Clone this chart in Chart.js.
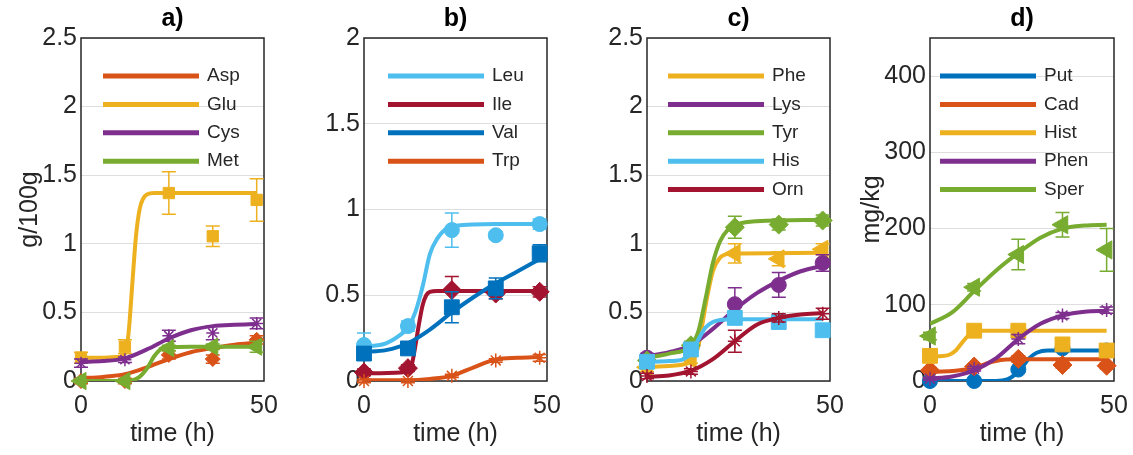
<!DOCTYPE html>
<html>
<head>
<meta charset="utf-8">
<script src="https://cdn.jsdelivr.net/npm/chart.js@4.4.1/dist/chart.umd.min.js"></script>
<style>
  body { margin: 0; background: #fff; }
  #wrap { position: relative; width: 1133px; height: 455px; }
  canvas { position: absolute; top: 0; }
</style>
</head>
<body>
<div id="wrap">
  <canvas id="chartA" width="283" height="455" style="left:0px"></canvas>
  <canvas id="chartB" width="283" height="455" style="left:283px"></canvas>
  <canvas id="chartC" width="283" height="455" style="left:566px"></canvas>
  <canvas id="chartD" width="284" height="455" style="left:849px"></canvas>
</div>
<script>
// sampling times (h) and axis ticks
const timePoints = [0, 12, 24, 36, 48]
const xTicks = [0, 50]
const yTicksA = [0, 0.5, 1, 1.5, 2, 2.5]
const yTicksB = [0, 0.5, 1, 1.5, 2]
const yTicksC = [0, 0.5, 1, 1.5, 2, 2.5]
const yTicksD = [0, 100, 200, 300, 400]

// a) g/100g
const aspMean = [0.0, 0.0, 0.19, 0.16, 0.30]
const aspErr = [0.02, 0.02, 0.03, 0.03, 0.03]
const aspFitT = [0, 6, 12, 18, 24, 30, 36, 42, 48]
const aspFitV = [0.02, 0.03, 0.05, 0.1, 0.16, 0.21, 0.24, 0.265, 0.28]
const gluMean = [0.17, 0.25, 1.37, 1.055, 1.32]
const gluErr = [0.04, 0.05, 0.155, 0.075, 0.155]
const gluFitT = [0, 6, 10, 12, 13, 14, 15, 16, 17, 18, 20, 30, 48]
const gluFitV = [0.17, 0.17, 0.175, 0.2, 0.35, 0.7, 1.05, 1.25, 1.33, 1.36, 1.37, 1.37, 1.37]
const cysMean = [0.13, 0.155, 0.33, 0.35, 0.42]
const cysErr = [0.03, 0.02, 0.04, 0.05, 0.04]
const cysFitT = [0, 6, 12, 18, 24, 30, 36, 42, 48]
const cysFitV = [0.14, 0.145, 0.165, 0.23, 0.31, 0.37, 0.40, 0.41, 0.415]
const metMean = [0.0, 0.0, 0.24, 0.25, 0.25]
const metErr = [0.01, 0.01, 0.02, 0.02, 0.04]
const metFitT = [0, 12, 14, 16, 18, 20, 22, 24, 30, 48]
const metFitV = [0, 0, 0.005, 0.03, 0.09, 0.18, 0.235, 0.245, 0.25, 0.25]

// b) g/100g
const leuMean = [0.21, 0.32, 0.88, 0.85, 0.915]
const leuErr = [0.07, 0.03, 0.1, 0.02, 0.03]
const leuFitT = [0, 6, 10, 12, 14, 16, 18, 20, 22, 25, 36, 48]
const leuFitV = [0.2, 0.22, 0.27, 0.31, 0.4, 0.55, 0.74, 0.83, 0.88, 0.905, 0.915, 0.915]
const ileMean = [0.05, 0.075, 0.53, 0.51, 0.52]
const ileErr = [0.02, 0.02, 0.08, 0.03, 0.03]
const ileFitT = [0, 10, 12, 13, 14, 15, 16, 17, 18, 20, 48]
const ileFitV = [0.045, 0.05, 0.06, 0.09, 0.2, 0.33, 0.44, 0.5, 0.52, 0.525, 0.525]
const valMean = [0.16, 0.19, 0.43, 0.54, 0.745]
const valErr = [0.03, 0.02, 0.09, 0.06, 0.05]
const valFitT = [0, 6, 12, 18, 24, 30, 36, 42, 48]
const valFitV = [0.17, 0.18, 0.22, 0.3, 0.4, 0.49, 0.57, 0.64, 0.71]
const trpMean = [0.0, 0.0, 0.03, 0.12, 0.135]
const trpErr = [0.01, 0.01, 0.01, 0.01, 0.02]
const trpFitT = [0, 12, 18, 24, 30, 36, 42, 48]
const trpFitV = [0.005, 0.005, 0.012, 0.03, 0.08, 0.125, 0.135, 0.14]

// c) g/100g
const pheMean = [0.1, 0.16, 0.93, 0.89, 0.96]
const pheErr = [0.03, 0.03, 0.07, 0.05, 0.04]
const pheFitT = [0, 6, 12, 14, 16, 18, 20, 22, 26, 48]
const pheFitV = [0.1, 0.11, 0.14, 0.25, 0.55, 0.8, 0.9, 0.925, 0.93, 0.935]
const lysMean = [0.17, 0.25, 0.56, 0.7, 0.86]
const lysErr = [0.03, 0.03, 0.12, 0.09, 0.06]
const lysFitT = [0, 6, 12, 18, 24, 30, 36, 42, 48]
const lysFitV = [0.18, 0.21, 0.26, 0.38, 0.52, 0.64, 0.73, 0.8, 0.84]
const tyrMean = [0.15, 0.26, 1.12, 1.14, 1.17]
const tyrErr = [0.03, 0.03, 0.08, 0.04, 0.04]
const tyrFitT = [0, 6, 12, 14, 16, 18, 20, 22, 25, 30, 48]
const tyrFitV = [0.17, 0.2, 0.26, 0.36, 0.6, 0.86, 1.02, 1.1, 1.145, 1.165, 1.175]
const hisMean = [0.14, 0.23, 0.46, 0.43, 0.37]
const hisErr = [0.03, 0.03, 0.04, 0.03, 0.04]
const hisFitT = [0, 6, 10, 12, 14, 16, 18, 20, 24, 48]
const hisFitV = [0.14, 0.145, 0.16, 0.2, 0.3, 0.39, 0.43, 0.445, 0.45, 0.45]
const ornMean = [0.036, 0.07, 0.29, 0.46, 0.49]
const ornErr = [0.02, 0.02, 0.08, 0.03, 0.04]
const ornFitT = [0, 6, 12, 18, 24, 30, 36, 42, 48]
const ornFitV = [0.03, 0.04, 0.075, 0.16, 0.29, 0.41, 0.46, 0.485, 0.495]

// d) mg/kg
const putMean = [0, 0, 15, 43, 40]
const putErr = [2, 2, 3, 4, 3]
const putFitT = [0, 18, 21, 23, 25, 27, 29, 32, 48]
const putFitV = [0, 0, 2, 8, 18, 30, 37, 40, 40]
const cadMean = [14, 19, 29, 21, 20]
const cadErr = [3, 3, 4, 4, 4]
const cadFitT = [0, 6, 12, 16, 20, 24, 48]
const cadFitV = [12, 13, 17, 24, 28, 28.5, 28.5]
const histMean = [33, 66, 66, 48, 40]
const histErr = [4, 3, 3, 4, 4]
const histFitT = [0, 5, 7, 9, 11, 13, 16, 48]
const histFitV = [32, 34, 40, 52, 62, 66, 66, 66]
const phenMean = [3, 16, 55, 86, 93]
const phenErr = [2, 3, 6, 4, 4]
const phenFitT = [0, 6, 12, 18, 24, 30, 36, 42, 48]
const phenFitV = [3, 6, 14, 30, 55, 75, 86, 91, 92]
const sperMean = [59, 123, 166, 205, 172]
const sperErr = [5, 5, 20, 16, 28]
const sperFitT = [0, 6, 12, 18, 24, 30, 36, 42, 48]
const sperFitV = [75, 90, 118, 145, 168, 188, 200, 204, 205]

const blue = "#0072BD"
const orange = "#D95319"
const yellow = "#EDB120"
const purple = "#7E2F8E"
const green = "#77AC30"
const lightBlue = "#4DBEEE"
const darkRed = "#A2142F"
const textColor = "#262626"
const family = "'Liberation Sans', Arial, Helvetica, sans-serif"

Chart.defaults.font.family = family
Chart.defaults.color = textColor

const bigMarks = { circle: 7.5, rect: 10.5, rectRot: 9.5, triangle: 10.5, star: 7 }
const smallMarks = { circle: 6.5, rect: 8, rectRot: 7.5, triangle: 10, star: 6.5 }

function makeSeries(i, label, color, marker, mean, err, fitT, fitV, marks) {
    const fit = {
        label: label,
        isFit: true,
        data: fitT.map((t, k) => ({ x: t, y: fitV[k] })),
        showLine: true,
        borderColor: color,
        borderWidth: 4,
        pointRadius: 0,
        cubicInterpolationMode: "monotone",
        fill: false,
        order: -2 * i
    }
    const style = marker == "left" ? "triangle" : marker
    const points = {
        label: label + " data",
        data: timePoints.map((t, k) => ({ x: t, y: mean[k] })),
        errors: err,
        showLine: false,
        pointStyle: style,
        rotation: marker == "left" ? -90 : 0,
        pointRadius: marks[style],
        backgroundColor: color,
        borderColor: color,
        borderWidth: style == "star" ? 1.5 : 1,
        clip: false,
        order: -2 * i - 1
    }
    return [fit, points]
}

// error bars, drawn just before the markers of each dataset
const errorBars = {
    id: "errorBars",
    beforeDatasetDraw(chart, args) {
        const ds = chart.data.datasets[args.index]
        if (!ds.errors) return
        const ctx = chart.ctx
        const xs = chart.scales.x
        const ys = chart.scales.y
        ctx.save()
        ctx.strokeStyle = ds.borderColor
        ctx.lineWidth = 1.5
        ds.data.forEach((p, k) => {
            const x = xs.getPixelForValue(p.x)
            const top = ys.getPixelForValue(p.y + ds.errors[k])
            const bot = ys.getPixelForValue(p.y - ds.errors[k])
            ctx.beginPath()
            ctx.moveTo(x, top)
            ctx.lineTo(x, bot)
            ctx.moveTo(x - 7, top)
            ctx.lineTo(x + 7, top)
            ctx.moveTo(x - 7, bot)
            ctx.lineTo(x + 7, bot)
            ctx.stroke()
        })
        ctx.restore()
    }
}

// axes box
const axesBox = {
    id: "axesBox",
    beforeDatasetsDraw(chart) {
        const a = chart.chartArea
        const ctx = chart.ctx
        ctx.save()
        ctx.strokeStyle = textColor
        ctx.lineWidth = 1.5
        ctx.strokeRect(a.left, a.top, a.right - a.left, a.bottom - a.top)
        ctx.restore()
    }
}

// legend with long line samples inside the axes
const lineKey = {
    id: "lineKey",
    afterDraw(chart, args, opts) {
        const ctx = chart.ctx
        const a = chart.chartArea
        const fits = chart.data.datasets.filter(ds => ds.isFit)
        ctx.save()
        ctx.font = "19px " + family
        ctx.textBaseline = "middle"
        ctx.textAlign = "left"
        fits.forEach((ds, k) => {
            const y = a.top + 38 + k * 28.4
            const x0 = a.left + opts.offset
            ctx.strokeStyle = ds.borderColor
            ctx.lineWidth = 5
            ctx.beginPath()
            ctx.moveTo(x0, y)
            ctx.lineTo(x0 + 96, y)
            ctx.stroke()
            ctx.fillStyle = textColor
            ctx.fillText(ds.label, x0 + 104, y)
        })
        ctx.restore()
    }
}

function makeChart(id, title, yTitle, yMax, yTicks, datasets, keyOffset, titlePad) {
    const chartDOM = document.getElementById(id)
    return new Chart(chartDOM, {
        type: "scatter",
        data: { datasets: datasets },
        options: {
            responsive: false,
            animation: false,
            events: [],
            layout: { padding: { left: 0, right: 19, top: 0, bottom: 0 } },
            plugins: {
                legend: { display: false },
                tooltip: { enabled: false },
                title: {
                    display: true,
                    text: title,
                    fullSize: false,
                    color: "#000",
                    font: { size: 25, weight: "bold", family: family },
                    padding: { top: 4, bottom: 4 }
                },
                lineKey: { offset: keyOffset }
            },
            scales: {
                x: {
                    type: "linear",
                    min: 0,
                    max: 50,
                    afterBuildTicks: (scale) => { scale.ticks = xTicks.map(v => ({ value: v })) },
                    afterFit: (scale) => { scale.height = 74 },
                    grid: { display: false, drawTicks: true, tickLength: 6 },
                    border: { display: false },
                    ticks: { padding: 4, maxRotation: 0, color: textColor, font: { size: 25 } },
                    title: {
                        display: true,
                        text: "time (h)",
                        color: textColor,
                        font: { size: 25 },
                        padding: { top: 0, bottom: 6 }
                    }
                },
                y: {
                    min: 0,
                    max: yMax,
                    afterBuildTicks: (scale) => { scale.ticks = yTicks.map(v => ({ value: v })) },
                    afterFit: (scale) => { scale.width = 81 },
                    grid: { color: "#dedede", lineWidth: 1, drawTicks: false },
                    border: { display: false },
                    ticks: { padding: 4, color: textColor, font: { size: 25 }, callback: v => String(v) },
                    title: {
                        display: yTitle != "",
                        text: yTitle,
                        color: textColor,
                        font: { size: 25 },
                        padding: { top: titlePad, bottom: 0 }
                    }
                }
            }
        },
        plugins: [errorBars, axesBox, lineKey]
    })
}

const setA = [].concat(
    makeSeries(0, "Asp", orange, "rectRot", aspMean, aspErr, aspFitT, aspFitV, smallMarks),
    makeSeries(1, "Glu", yellow, "rect", gluMean, gluErr, gluFitT, gluFitV, smallMarks),
    makeSeries(2, "Cys", purple, "star", cysMean, cysErr, cysFitT, cysFitV, smallMarks),
    makeSeries(3, "Met", green, "left", metMean, metErr, metFitT, metFitV, smallMarks)
)
const setB = [].concat(
    makeSeries(0, "Leu", lightBlue, "circle", leuMean, leuErr, leuFitT, leuFitV, bigMarks),
    makeSeries(1, "Ile", darkRed, "rectRot", ileMean, ileErr, ileFitT, ileFitV, bigMarks),
    makeSeries(2, "Val", blue, "rect", valMean, valErr, valFitT, valFitV, bigMarks),
    makeSeries(3, "Trp", orange, "star", trpMean, trpErr, trpFitT, trpFitV, bigMarks)
)
const setC = [].concat(
    makeSeries(0, "Phe", yellow, "left", pheMean, pheErr, pheFitT, pheFitV, bigMarks),
    makeSeries(1, "Lys", purple, "circle", lysMean, lysErr, lysFitT, lysFitV, bigMarks),
    makeSeries(2, "Tyr", green, "rectRot", tyrMean, tyrErr, tyrFitT, tyrFitV, bigMarks),
    makeSeries(3, "His", lightBlue, "rect", hisMean, hisErr, hisFitT, hisFitV, bigMarks),
    makeSeries(4, "Orn", darkRed, "star", ornMean, ornErr, ornFitT, ornFitV, bigMarks)
)
const setD = [].concat(
    makeSeries(0, "Put", blue, "circle", putMean, putErr, putFitT, putFitV, bigMarks),
    makeSeries(1, "Cad", orange, "rectRot", cadMean, cadErr, cadFitT, cadFitV, bigMarks),
    makeSeries(2, "Hist", yellow, "rect", histMean, histErr, histFitT, histFitV, bigMarks),
    makeSeries(3, "Phen", purple, "star", phenMean, phenErr, phenFitT, phenFitV, bigMarks),
    makeSeries(4, "Sper", green, "left", sperMean, sperErr, sperFitT, sperFitV, bigMarks)
)

makeChart("chartA", "a)", "g/100g", 2.5, yTicksA, setA, 22, 15)
makeChart("chartB", "b)", "", 2, yTicksB, setB, 24, 0)
makeChart("chartC", "c)", "", 2.5, yTicksC, setC, 21, 0)
makeChart("chartD", "d)", "mg/kg", 450, yTicksD, setD, 10, 8)
</script>
</body>
</html>
